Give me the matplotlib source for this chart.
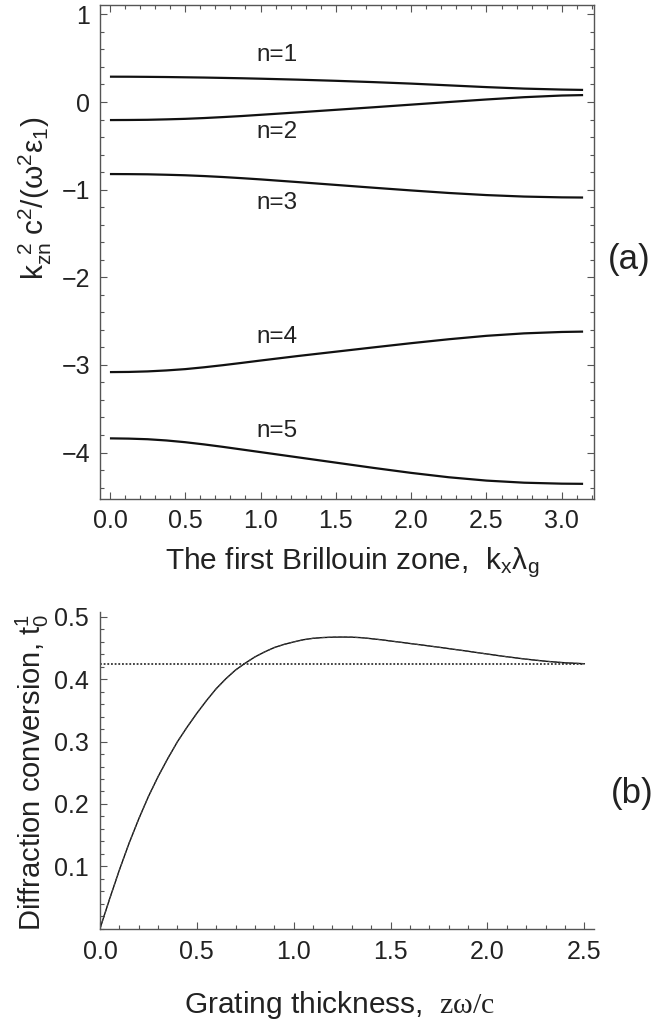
import numpy as np
import matplotlib
matplotlib.use("Agg")
import matplotlib.pyplot as plt
from matplotlib.ticker import MultipleLocator, FixedLocator

plt.rcParams['font.family'] = ['Liberation Sans', 'DejaVu Sans']
plt.rcParams['mathtext.fontset'] = 'custom'
plt.rcParams['mathtext.rm'] = 'Liberation Serif'
plt.rcParams['mathtext.it'] = 'Liberation Serif:italic'
plt.rcParams['axes.unicode_minus'] = True

# ---- panel (a) data: k_zn^2 c^2/(w^2 eps1) vs k_x lambda_g ----
kx = [0.0, 0.125, 0.25, 0.375, 0.5, 0.625, 0.75, 0.875, 1.0, 1.25, 1.5, 1.75,
      2.0, 2.25, 2.5, 2.75, 3.0, 3.1416]
band1 = [0.289, 0.2885, 0.287, 0.285, 0.282, 0.279, 0.275, 0.271, 0.266, 0.255,
         0.242, 0.227, 0.210, 0.190, 0.170, 0.153, 0.142, 0.138]
band2 = [-0.206, -0.205, -0.203, -0.198, -0.192, -0.183, -0.172, -0.160, -0.146,
         -0.118, -0.089, -0.060, -0.030, 0.000, 0.029, 0.055, 0.074, 0.079]
band3 = [-0.822, -0.823, -0.825, -0.830, -0.836, -0.845, -0.856, -0.869, -0.883,
         -0.914, -0.946, -0.978, -1.009, -1.038, -1.062, -1.079, -1.088, -1.090]
band4 = [-3.082, -3.080, -3.074, -3.063, -3.048, -3.027, -3.003, -2.977, -2.950,
         -2.898, -2.849, -2.800, -2.752, -2.707, -2.668, -2.640, -2.624, -2.620]
band5 = [-3.838, -3.841, -3.848, -3.862, -3.882, -3.907, -3.935, -3.965, -3.995,
         -4.055, -4.115, -4.175, -4.232, -4.282, -4.320, -4.344, -4.355, -4.357]
band_labels = ['n=1', 'n=2', 'n=3', 'n=4', 'n=5']
label_y = [0.54, -0.34, -1.15, -2.68, -3.75]
label_x = 1.11

# ---- panel (b) data: diffraction conversion vs grating thickness ----
zthick = [0.0, 0.05, 0.1, 0.15, 0.2, 0.25, 0.3, 0.35, 0.4, 0.45, 0.5, 0.55, 0.6, 0.65,
          0.7, 0.75, 0.8, 0.85, 0.9, 0.95, 1.0, 1.05, 1.1, 1.15, 1.2, 1.25, 1.3, 1.35,
          1.4, 1.45, 1.5, 1.6, 1.7, 1.8, 1.9, 2.0, 2.1, 2.2, 2.3, 2.4, 2.5]
conversion = [0.0, 0.048, 0.094, 0.137, 0.176, 0.212, 0.244, 0.273, 0.300, 0.3235,
              0.3455, 0.366, 0.385, 0.401, 0.415, 0.426, 0.436, 0.444, 0.451, 0.456,
              0.460, 0.4635, 0.4658, 0.4670, 0.4676, 0.4678, 0.4676, 0.4668, 0.4652,
              0.4635, 0.4615, 0.4575, 0.4535, 0.4493, 0.4450, 0.4405, 0.4362, 0.4323,
              0.4290, 0.4265, 0.4250]
asymptote = 0.425

W, H = 670, 1023
fig = plt.figure(figsize=(W / 100, H / 100), dpi=100)

spine_col = '#555555'
txt_col = '#222222'
TICK_FS = 18
LAB_FS = 21.5

# ---------------- panel (a) ----------------
ax1 = fig.add_axes([100 / W, 1 - 499 / H, 494 / W, 494 / H])
for b in (band1, band2, band3, band4, band5):
    ax1.plot(kx, b, color='#111111', lw=1.6, solid_capstyle='butt')
for lab, ly in zip(band_labels, label_y):
    ax1.text(label_x, ly, lab, fontsize=17.5, color=txt_col, ha='center', va='center')
ax1.set_xlim(-0.066, 3.214)
ax1.set_ylim(-4.53, 1.107)
ax1.xaxis.set_major_locator(FixedLocator([0, 0.5, 1.0, 1.5, 2.0, 2.5, 3.0]))
ax1.xaxis.set_minor_locator(MultipleLocator(0.1))
ax1.yaxis.set_major_locator(MultipleLocator(1))
ax1.yaxis.set_minor_locator(MultipleLocator(0.2))
ax1.set_xticklabels(['0.0', '0.5', '1.0', '1.5', '2.0', '2.5', '3.0'])
ax1.tick_params(which='both', direction='in', top=True, right=True, color=spine_col,
                labelcolor=txt_col, labelsize=TICK_FS, width=0.8)
ax1.tick_params(which='major', length=5, pad=7)
ax1.tick_params(which='minor', length=2.6)
for s in ax1.spines.values():
    s.set_color(spine_col)
    s.set_linewidth(1.0)
fig.text(352 / W, 1 - 563 / H, r'The first Brillouin zone,  $\mathregular{k_x\lambda_g}$',
         fontsize=LAB_FS, color=txt_col, ha='center', va='center')
fig.text(35 / W, 1 - 198 / H,
         r'$\mathregular{k_{zn}^{\ \ 2}\ c^2/(\omega^2\varepsilon_1)}$',
         fontsize=LAB_FS, color=txt_col, ha='center', va='center', rotation=90)
fig.text(629 / W, 1 - 260 / H, '(a)', fontsize=25, color=txt_col, ha='center', va='center')

# ---------------- panel (b) ----------------
ax2 = fig.add_axes([100 / W, 1 - 928.6 / H, 494 / W, 316.6 / H])
ax2.plot([0, 2.5], [asymptote, asymptote], color='#111111', lw=1.1, ls=(0, (1.2, 1.2)))
ax2.plot(zthick, conversion, color='#111111', lw=1.0)
ax2.plot(zthick, conversion, color='#444444', lw=0.8, ls=(0, (3, 2)))
ax2.set_xlim(0, 2.55)
ax2.set_ylim(0, 0.508)
ax2.spines['top'].set_visible(False)
ax2.spines['right'].set_visible(False)
for s in ('left', 'bottom'):
    ax2.spines[s].set_color(spine_col)
    ax2.spines[s].set_linewidth(1.0)
ax2.xaxis.set_major_locator(FixedLocator([0, 0.5, 1.0, 1.5, 2.0, 2.5]))
ax2.xaxis.set_minor_locator(MultipleLocator(0.1))
ax2.yaxis.set_major_locator(FixedLocator([0.1, 0.2, 0.3, 0.4, 0.5]))
ax2.yaxis.set_minor_locator(MultipleLocator(0.02))
ax2.set_xticklabels(['0.0', '0.5', '1.0', '1.5', '2.0', '2.5'])
ax2.set_yticklabels(['0.1', '0.2', '0.3', '0.4', '0.5'])
ax2.tick_params(which='both', direction='in', color=spine_col, labelcolor=txt_col,
                labelsize=TICK_FS, width=0.8)
ax2.tick_params(which='major', length=5, pad=8)
ax2.tick_params(which='minor', length=2.6)
fig.text(340 / W, 1 - 1005 / H, r'Grating thickness,  $\mathrm{z\omega/c}$',
         fontsize=LAB_FS, color=txt_col, ha='center', va='center')
fig.text(32 / W, 1 - 772 / H, r'Diffraction conversion, $\mathregular{t_0^1}$',
         fontsize=21, color=txt_col, ha='center', va='center', rotation=90)
fig.text(632 / W, 1 - 793 / H, '(b)', fontsize=25, color=txt_col, ha='center', va='center')

fig.savefig('out.png', dpi=100)
